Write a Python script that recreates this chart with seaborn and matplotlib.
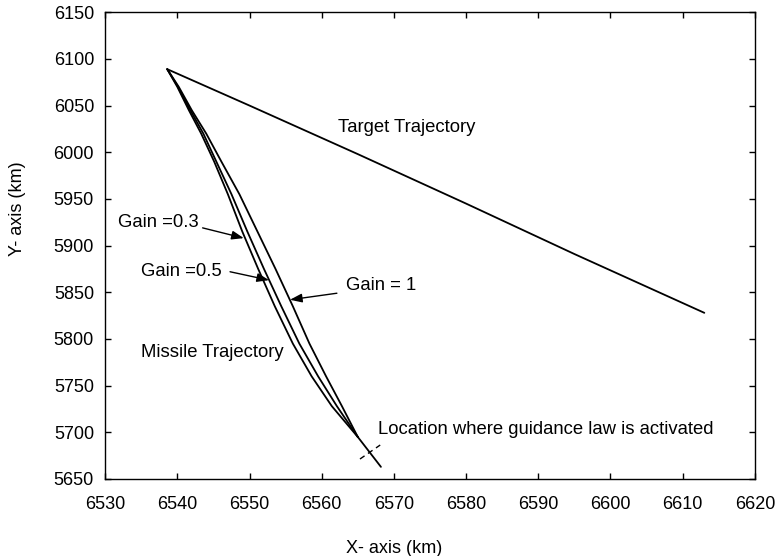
import matplotlib
matplotlib.use("Agg")
import matplotlib.pyplot as plt
import seaborn as sns
import pandas as pd

# Target path (km)
target_x = [6538.6, 6550.0, 6565.0, 6580.0, 6595.0, 6613.0]
target_y = [6089.0, 6050.0, 5998.0, 5945.0, 5891.0, 5828.0]

# Missile path before the guidance law switches on
pre_x = [6568.2, 6565.0]
pre_y = [5663.0, 5695.0]

# Missile paths after guidance activation, one per gain
gain03_x = [6565.0, 6561.4, 6558.6, 6556.0, 6553.5, 6551.2, 6549.0, 6547.0,
            6545.1, 6543.3, 6541.6, 6540.0, 6538.6]
gain03_y = [5695.0, 5728.0, 5760.0, 5795.0, 5835.0, 5875.0, 5915.0, 5955.0,
            5990.0, 6020.0, 6045.0, 6070.0, 6089.0]

gain05_x = [6565.0, 6562.1, 6559.5, 6556.9, 6554.4, 6552.0, 6549.7, 6547.5,
            6545.4, 6543.6, 6541.8, 6540.1, 6538.6]
gain05_y = [5695.0, 5728.0, 5760.0, 5795.0, 5835.0, 5875.0, 5915.0, 5955.0,
            5990.0, 6020.0, 6045.0, 6070.0, 6089.0]

gain1_x = [6565.0, 6562.8, 6560.6, 6558.3, 6556.0, 6553.6, 6551.1, 6548.6,
           6546.1, 6544.0, 6542.0, 6540.2, 6538.6]
gain1_y = [5695.0, 5728.0, 5760.0, 5795.0, 5835.0, 5875.0, 5915.0, 5955.0,
           5990.0, 6020.0, 6045.0, 6070.0, 6089.0]

# Dashed marker where guidance starts
marker_x = [6565.3, 6568.1]
marker_y = [5671.4, 5686.4]

x_ticks = [6530, 6540, 6550, 6560, 6570, 6580, 6590, 6600, 6610, 6620]
y_ticks = [5650, 5700, 5750, 5800, 5850, 5900, 5950, 6000, 6050, 6100, 6150]

sns.set_theme(style="ticks")
plt.rcParams["font.family"] = ["Liberation Sans", "DejaVu Sans"]
plt.rcParams["axes.edgecolor"] = "black"
plt.rcParams["axes.linewidth"] = 1.0
plt.rcParams["text.color"] = "black"
plt.rcParams["axes.labelcolor"] = "black"

fig = plt.figure(figsize=(7.79, 5.56), dpi=100)
ax = fig.add_axes([0.135, 0.1385, 0.834, 0.8395])

paths = [
    ("target", target_x, target_y),
    ("pre", pre_x, pre_y),
    ("g03", gain03_x, gain03_y),
    ("g05", gain05_x, gain05_y),
    ("g1", gain1_x, gain1_y),
]
frames = []
for name, xs, ys in paths:
    frames.append(pd.DataFrame({"x": xs, "y": ys, "path": name}))
df = pd.concat(frames, ignore_index=True)

sns.lineplot(data=df, x="x", y="y", units="path", estimator=None, sort=False,
             color="black", linewidth=1.3, ax=ax)

sns.lineplot(x=marker_x, y=marker_y, sort=False, estimator=None, color="black",
             linewidth=1.0, linestyle=(0, (4, 3)), ax=ax)

ax.set_xlim(6530, 6620)
ax.set_ylim(5650, 6150)
ax.set_xticks(x_ticks)
ax.set_yticks(y_ticks)
ax.tick_params(axis="both", direction="in", length=4, width=1, colors="black",
               labelsize=13, top=True, right=True)
ax.tick_params(axis="x", pad=12)
ax.tick_params(axis="y", pad=8)

ax.set_xlabel("X- axis (km)", fontsize=13)
ax.set_ylabel("Y- axis (km)", fontsize=13)
ax.xaxis.set_label_coords(0.445, -0.13)
ax.yaxis.set_label_coords(-0.122, 0.58)

fs = 13.3
ax.text(6562.3, 6027, "Target Trajectory", fontsize=fs, va="center", ha="left")
ax.text(6534.9, 5785, "Missile Trajectory", fontsize=fs, va="center", ha="left")
ax.text(6567.8, 5703, "Location where guidance law is activated", fontsize=fs,
        va="center", ha="left")

arrow = dict(arrowstyle="-|>,head_length=0.6,head_width=0.22", color="black",
             lw=1.0, shrinkA=0, shrinkB=0)
ax.text(6531.8, 5925, "Gain =0.3", fontsize=fs, va="center", ha="left")
ax.annotate("", xy=(6549.2, 5908), xytext=(6543.5, 5919), arrowprops=arrow)
ax.text(6534.9, 5872, "Gain =0.5", fontsize=fs, va="center", ha="left")
ax.annotate("", xy=(6552.7, 5863), xytext=(6547.3, 5872), arrowprops=arrow)
ax.text(6563.3, 5857, "Gain = 1", fontsize=fs, va="center", ha="left")
ax.annotate("", xy=(6555.6, 5842), xytext=(6562.1, 5849), arrowprops=arrow)

fig.savefig("out.png", dpi=100, facecolor="white")
